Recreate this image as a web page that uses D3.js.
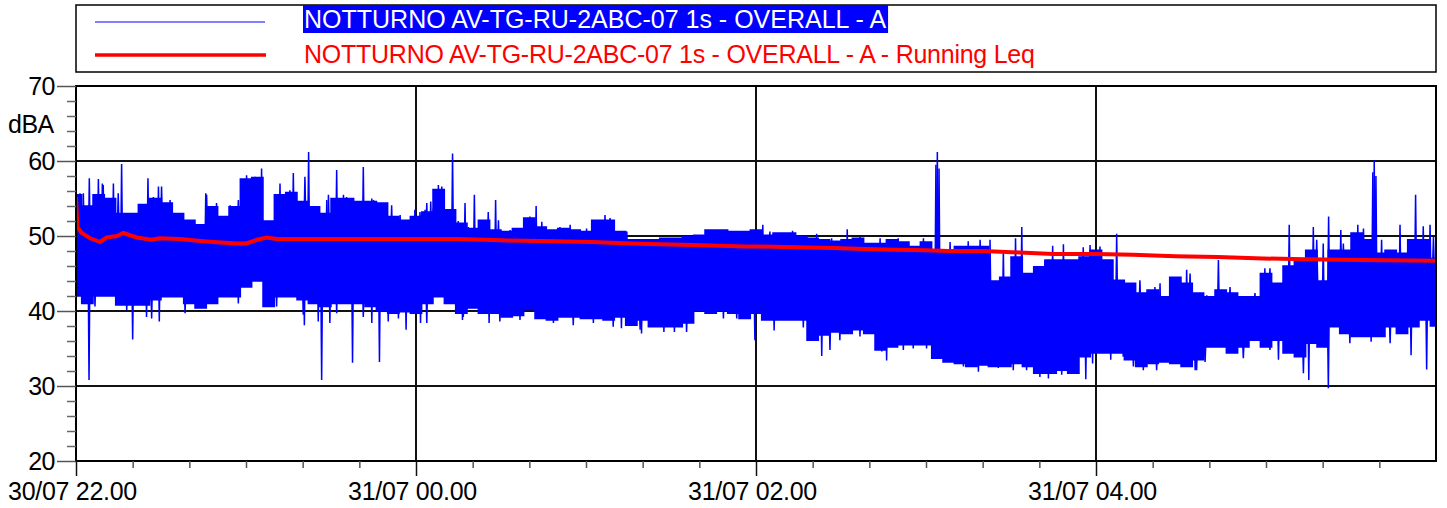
<!DOCTYPE html>
<html><head><meta charset="utf-8">
<script src="https://cdn.jsdelivr.net/npm/d3@7"></script>
<style>body{margin:0;background:#fff}svg{display:block;font-family:"Liberation Sans",Arial,sans-serif}</style>
</head><body><svg id="c" width="1447" height="508"></svg>
<script>
// ---- data (minutes after 30/07 22.00, values in dBA) ----
const seriesNames = ["NOTTURNO AV-TG-RU-2ABC-07 1s - OVERALL - A",
                     "NOTTURNO AV-TG-RU-2ABC-07 1s - OVERALL - A - Running Leq"];
const bandTime = [0,4,8,12,16,20,24,28,32,36,40,44,48,52,56,60,64,68,72,76,80,84,88,92,96,100,104,108,112,116,
  120,124,128,132,136,140,144,148,152,156,160,164,168,172,176,180,184,188,192,196,200,204,208,212,216,220,224,228,232,236,
  240,244,248,252,256,260,264,268,272,276,280,284,288,292,296,300,304,308,312,316,320,324,328,332,336,340,344,348,352,356,
  360,364,368,372,376,380,384,388,392,396,400,404,408,412,416,420,424,428,432,436,440,444,448,452,456,460,464,468,472,476,480];
const bandHi = [55.5,54.0,55.5,55.0,53.0,53.0,54.2,55.0,54.4,53.0,52.1,51.5,53.9,52.6,53.9,57.6,57.8,52.0,55.5,55.8,54.6,53.9,53.0,55.0,55.0,54.6,54.6,54.4,52.6,52.1,
  52.6,53.2,56.2,53.5,51.7,51.0,52.1,50.8,50.6,51.0,52.4,51.2,50.8,51.0,50.8,50.6,52.1,52.1,50.6,49.5,49.5,49.5,49.7,49.7,49.9,50.1,50.8,50.8,50.6,50.6,
  50.8,50.1,50.4,50.4,49.9,49.7,49.5,49.3,49.5,49.7,49.0,49.0,49.5,49.2,48.6,49.2,48.1,48.1,48.6,48.6,48.6,44.0,44.5,47.2,45.0,45.9,46.8,46.8,46.8,47.2,
  48.1,46.8,44.1,43.7,42.4,42.8,41.9,44.5,43.7,42.4,41.9,42.8,42.4,41.9,41.9,45.0,43.7,46.0,46.8,48.1,44.0,48.1,48.1,50.4,49.5,47.7,48.1,47.7,49.5,49.5,47.0];
const bandLo = [42.0,41.0,42.0,42.0,40.8,40.8,40.8,41.5,41.9,41.9,41.0,40.4,41.0,41.9,41.9,43.2,44.0,40.6,41.9,41.9,41.5,41.0,40.6,41.0,41.0,41.0,40.6,40.1,39.7,39.9,
  39.7,41.0,41.9,41.0,39.7,40.4,39.7,39.7,39.2,39.4,40.2,39.0,38.8,39.2,39.2,39.0,39.0,38.8,39.2,38.1,38.8,37.9,37.9,37.9,38.4,40.1,39.7,40.1,39.7,39.0,
  39.7,38.8,38.8,38.8,38.8,36.1,36.8,37.2,37.0,37.5,37.0,34.8,35.2,35.5,35.5,35.5,33.7,33.2,33.0,32.6,32.8,32.6,32.6,33.0,32.6,31.7,31.7,32.1,31.7,33.9,
  34.4,34.4,34.4,33.5,32.6,33.0,33.2,33.0,32.6,33.5,35.2,35.2,34.4,35.2,36.1,35.2,36.1,34.4,33.9,35.7,35.2,37.9,37.0,36.6,36.6,36.6,37.9,37.0,37.9,38.8,38.0];
// isolated events (large excursions)
const spikeTime = [2.6,4.7,7.9,9.3,13.2,16.1,25.4,29.1,45.8,65.5,72,76.7,82.1,88.5,92.0,94.4,101.4,105,119.6,
  123.2,125.2,127.9,130.5,132.9,137.3,140.6,148.1,162.4,
  242.4,252.9,261.4,272.2,303.5,304.0,304.6,314.9,322.6,327.3,331.6,333.8,342.0,344.7,348.5,355.5,357.9,
  367.3,382.6,392,403.2,419.6,428.2,436.7,440.2,442.1,446.4,452.4,457.7,458.2,458.8,460.8,467.3,471.4,472.8,475.5,477.9,
  4.6,20.0,24.9,29.4,80.6,85.5,86.7,89.6,97.6,104.4,107.1,110.2,116.5,
  121.6,136.4,145.8,192.5,199.6,207.5,211.2,239.6,
  246.4,256.7,263.2,286.1,343.2,356.4,
  358.8,365.2,369.6,395,424.4,435.1,442.0,457.1,471.2,476.7];
const spikeValue = [55.7,57.7,57.6,57.0,57.0,59.6,57.7,56.6,55.7,59.0,57.0,58.4,61.2,54.8,58.8,55.5,59.2,54.8,53.5,
  53.5,54.6,56.8,53.5,61.0,54.4,55.5,54.8,54.0,
  51.5,50.7,50.3,50.9,59.5,61.2,59.0,49.3,49.5,48.1,49.7,51.2,46.8,48.7,48.9,48.5,48.8,
  50.3,43.7,45.5,46.8,45.7,51.5,51.2,49.0,52.6,50.8,51.5,58.5,60.1,58.0,49.5,51.5,48.1,55.5,51.3,51.5,
  30.8,36.2,39.2,38.6,38.1,38.6,30.8,38.4,33.1,38.4,33.2,38.6,37.5,
  38.4,38.8,38.4,37.7,37.0,37.2,37.2,36.1,
  37.4,37.8,34.0,33.4,31.0,30.9,
  33.0,33.5,33.9,32.1,33.5,30.8,29.7,35.9,34.1,32.2];
// smaller peaks along the edges of the band
const peakTime = [1.4,9.6,14.9,23.2,27.3,30.2,33.2,46.1,49.6,54.4,57.3,60.2,63.2,71.4,75.5,80.8,84.4,89.1,95.5,99.1,104.4,106.1,111.4,114.4,
  6.7,17.9,26.7,38.5,43.2,57.3,70.8,80.2,92,101.4,113.8,
  121.4,123.8,126.1,129.1,134.9,138.5,143.2,145.5,149.1,153.2,156.7,160.2,164.4,170.8,174.4,180.2,186.7,188.5,194.4,207.3,214.4,225,229.6,239,
  123.8,136.7,149.6,156.7,168.5,175.5,182.6,189.6,199.1,204.9,215.5,228.5,233.2,
  244.9,249.6,255.5,266.7,276.7,283.8,290.2,299.1,308.5,319.1,
  266.1,269.6,276.7,284.4,292,295.5,300.2,307.3,313.2,318.5,325.5,330.8,335.5,340.2,347.9,353.2,
  361.4,375.5,380.8,393.2,399.1,407.3,416.1,421.4,433.2,437.9,447.3,450.8,454.4,464.4,475.5,479.1,
  373.2,376.7,381.4,390.8,395.5,398.5,412,421.4,430.8,433.2,440.2,449.6,463.8,467.9];
const peakValue = [55.7,56.8,55.7,53.2,55.2,56.6,54.8,55.5,54.4,54.1,54.8,58.1,57.9,55.5,56.1,57.9,53.9,55.5,55.2,54.6,55.0,54.6,54.1,52.8,
  40.6,40.1,39.0,39.7,40.8,41.0,40.6,39.5,39.7,39.2,39.0,
  53.2,54.4,53.7,56.6,52.0,51.2,51.9,53.2,52.1,50.8,51.0,52.6,51.9,51.2,51.5,51.0,52.8,52.4,50.6,49.7,49.9,50.8,50.8,50.8,
  38.4,39.2,38.6,38.8,38.4,38.1,38.4,37.9,37.5,37.9,37.2,39.0,39.0,
  50.6,50.4,50.1,49.7,49.9,49.7,49.7,49.7,49.2,49.5,
  34.8,36.1,36.6,34.6,34.8,35.0,35.0,33.2,32.6,31.9,32.4,32.1,32.1,31.2,31.5,31.7,
  48.6,44.1,43.2,45.0,42.1,43.2,42.4,45.7,46.8,49.5,49.0,50.4,51.0,48.1,49.5,49.9,
  32.6,32.1,32.1,32.6,32.1,33.2,33.7,34.8,34.4,31.7,35.2,35.7,35.7,37.5];
const leqTime = [0,0.5,2,5,8.5,10.8,14.4,16.7,21.4,26.7,29.6,36.7,45,48.5,56.7,60.2,63.8,67.3,70.8,120,
  135,153,169,182,196,206,218,236,240,267,285,300,308,320,333,345,360,373,388,403,419,434,454,480];
const leqValue = [55.2,51.2,50.4,49.7,49.2,49.8,50.0,50.4,49.8,49.5,49.7,49.6,49.3,49.2,49.0,49.0,49.5,49.8,49.6,49.6,
  49.6,49.4,49.3,49.2,49.0,48.9,48.8,48.6,48.6,48.4,48.2,48.1,48.0,48.0,47.8,47.6,47.6,47.5,47.3,47.2,47.0,46.9,46.8,46.7];
const yMajorTicks = [20,30,40,50,60,70];
const yMinorTicks = [22,24,26,28,32,34,36,38,42,44,46,48,52,54,56,58,62,64,66,68];
const xMajorTicks = [0,120,240,360];
const xTickLabels = ["30/07 22.00","31/07 00.00","31/07 02.00","31/07 04.00"];
const xMinorTicks = [20,40,60,80,100,140,160,180,200,220,260,280,300,320,340,380,400,420,440,460];
const yUnit = "dBA";

// ---- drawing ----
const svg = d3.select("#c");
const L = 76, R = 1436, T = 86, B = 461;
const x = d3.scaleLinear().domain([0, 480]).range([L, R]);
const y = d3.scaleLinear().domain([20, 70]).range([B, T]);
const FONT = "25px";

// grid
const g = svg.append("g");
g.selectAll(".hg").data(yMajorTicks.filter(v => v > 20 && v < 70)).join("line")
  .attr("x1", L).attr("x2", R).attr("y1", d => y(d)).attr("y2", d => y(d))
  .attr("stroke", "#111").attr("stroke-width", 2);
g.selectAll(".vg").data(xMajorTicks.filter(v => v > 0)).join("line")
  .attr("x1", d => x(d)).attr("x2", d => x(d)).attr("y1", T).attr("y2", B)
  .attr("stroke", "#111").attr("stroke-width", 2);

// blue band
const band = bandTime.map((t, i) => ({t, hi: bandHi[i], lo: bandLo[i]}));
svg.append("clipPath").attr("id", "pc").append("rect")
  .attr("x", L).attr("y", T).attr("width", R - L).attr("height", B - T);
const pg = svg.append("g").attr("clip-path", "url(#pc)");
pg.append("path").datum(band)
  .attr("d", d3.area().curve(d3.curveStep).x(d => x(d.t)).y0(d => y(d.lo)).y1(d => y(d.hi)))
  .attr("fill", "#0000ff").attr("stroke", "#0000ff").attr("stroke-width", 1.5);
const bis = d3.bisector(d => d.t).left;
function mid(t) {
  let i = Math.max(1, Math.min(band.length - 1, bis(band, t)));
  const a = band[i - 1], b = band[i], f = (t - a.t) / (b.t - a.t);
  return ((a.hi + a.lo) / 2) * (1 - f) + ((b.hi + b.lo) / 2) * f;
}
const spikeData = spikeTime.map((t, i) => ({t, v: spikeValue[i], w: 1}))
  .concat(peakTime.map((t, i) => ({t, v: peakValue[i], w: 1.5})));
pg.selectAll(".sp").data(spikeData).join("path")
  .attr("d", d => `M${x(d.t) - d.w},${y(mid(d.t))}L${x(d.t)},${y(d.v)}L${x(d.t) + d.w},${y(mid(d.t))}`)
  .attr("fill", "#0000ff").attr("stroke", "#0000ff").attr("stroke-width", 1.5);

// running leq
pg.append("path").datum(leqTime.map((t, i) => ({t, v: leqValue[i]})))
  .attr("d", d3.line().x(d => x(d.t)).y(d => y(d.v)))
  .attr("fill", "none").attr("stroke", "#ff0000").attr("stroke-width", 4);

// frame
svg.append("rect").attr("x", L).attr("y", T).attr("width", R - L).attr("height", B - T)
  .attr("fill", "none").attr("stroke", "#000").attr("stroke-width", 2);

// y axis
const ya = svg.append("g").attr("transform", `translate(${L},0)`)
  .call(d3.axisLeft(y).tickValues(yMajorTicks).tickSize(19).tickPadding(2).tickFormat(d3.format("d")));
ya.select(".domain").remove();
ya.selectAll(".tick line").attr("stroke", "#555").attr("stroke-width", 1.5);
ya.selectAll(".tick text").attr("font-size", FONT).attr("fill", "#000").attr("letter-spacing", "-0.5px")
  .attr("font-family", "Liberation Sans, Arial, sans-serif");
const ym = svg.append("g").attr("transform", `translate(${L},0)`)
  .call(d3.axisLeft(y).tickValues(yMinorTicks).tickSize(9).tickFormat(""));
ym.select(".domain").remove();
ym.selectAll(".tick line").attr("stroke", "#666").attr("stroke-width", 1.5);
svg.append("text").attr("x", 8).attr("y", 133).attr("font-size", FONT).attr("letter-spacing", "-0.5px").text(yUnit);

// x axis
const xa = svg.append("g").attr("transform", `translate(0,${B})`)
  .call(d3.axisBottom(x).tickValues(xMajorTicks).tickSize(15).tickPadding(6).tickFormat((d, i) => xTickLabels[i]));
xa.select(".domain").remove();
xa.selectAll(".tick line").attr("stroke", "#111").attr("stroke-width", 1.5);
xa.selectAll(".tick text").attr("font-size", FONT).attr("fill", "#000").attr("letter-spacing", "-0.3px")
  .attr("font-family", "Liberation Sans, Arial, sans-serif").attr("dx", -4);
const xm = svg.append("g").attr("transform", `translate(0,${B})`)
  .call(d3.axisBottom(x).tickValues(xMinorTicks).tickSize(7).tickFormat(""));
xm.select(".domain").remove();
xm.selectAll(".tick line").attr("stroke", "#555").attr("stroke-width", 1.5);

// legend
svg.append("rect").attr("x", L).attr("y", 5).attr("width", R - L).attr("height", 67)
  .attr("fill", "none").attr("stroke", "#000").attr("stroke-width", 1.5);
svg.append("line").attr("x1", 95).attr("x2", 265).attr("y1", 22).attr("y2", 22)
  .attr("stroke", "#0000ff").attr("stroke-width", 1.2);
svg.append("line").attr("x1", 95).attr("x2", 266).attr("y1", 55).attr("y2", 55)
  .attr("stroke", "#ff0000").attr("stroke-width", 3.5);
const hl = svg.append("rect").attr("x", 303).attr("y", 5).attr("height", 28).attr("fill", "#0000ff");
const t1 = svg.append("text").attr("x", 304).attr("y", 28).attr("font-size", FONT)
  .attr("fill", "#fff").text(seriesNames[0]);
hl.attr("width", t1.node().getComputedTextLength() + 3);
svg.append("text").attr("x", 304).attr("y", 63).attr("font-size", FONT).attr("letter-spacing", "-0.25px")
  .attr("fill", "#ff0000").text(seriesNames[1]);
</script></body></html>
